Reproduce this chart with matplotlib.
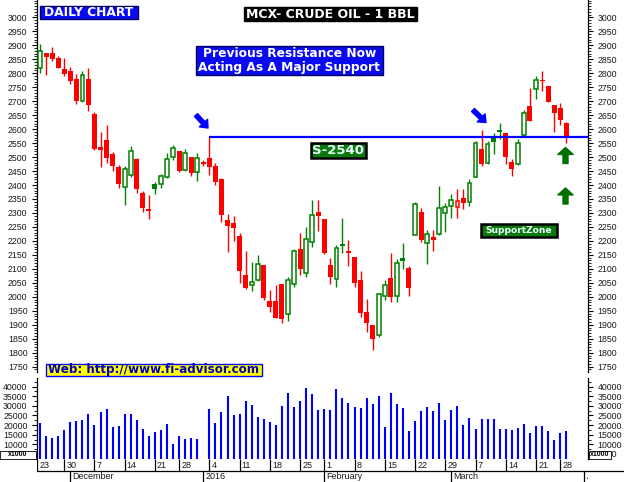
import numpy as np
import pandas as pd
import matplotlib
matplotlib.use("Agg")
import matplotlib.pyplot as plt
from matplotlib.patches import Rectangle, FancyArrowPatch
from matplotlib.lines import Line2D

# ---------------- data ----------------
first_session = "2015-11-24"
calendar_start = "2015-11-23"
calendar_end = "2016-04-01"
holidays = ["2015-12-25", "2016-01-26", "2016-03-25"]

opens = [2817, 2872, 2872, 2854, 2815, 2808, 2779, 2700, 2779, 2654,
         2536, 2561, 2511, 2464, 2392, 2437, 2493, 2371, 2310, 2404,
         2402, 2430, 2499, 2520, 2452, 2499, 2448, 2481, 2495, 2468,
         2421, 2275, 2264, 2218, 2078, 2043, 2059, 2114, 1985, 1985,
         2046, 1937, 2045, 2171, 2084, 2195, 2303, 2277, 2114, 2062,
         2188, 2164, 2142, 2060, 1946, 1899, 1862, 2004, 2067, 2004,
         2139, 2103, 2222, 2303, 2194, 2213, 2223, 2299, 2326, 2322,
         2353, 2340, 2430, 2529, 2480, 2569, 2593, 2586, 2482, 2474,
         2578, 2683, 2742, 2775, 2754, 2686, 2677, 2621]
highs = [2904, 2873, 2894, 2862, 2854, 2822, 2797, 2808, 2820, 2661,
         2591, 2615, 2517, 2472, 2468, 2540, 2498, 2377, 2364, 2412,
         2439, 2515, 2542, 2521, 2528, 2500, 2515, 2491, 2573, 2479,
         2426, 2296, 2289, 2227, 2164, 2125, 2150, 2115, 2024, 2042,
         2047, 2071, 2172, 2228, 2250, 2346, 2346, 2278, 2140, 2185,
         2282, 2203, 2143, 2092, 1992, 1900, 2012, 2060, 2158, 2135,
         2192, 2110, 2339, 2318, 2239, 2239, 2396, 2334, 2368, 2385,
         2386, 2421, 2557, 2597, 2557, 2586, 2622, 2587, 2493, 2566,
         2667, 2748, 2790, 2808, 2755, 2687, 2692, 2627]
lows = [2800, 2794, 2845, 2819, 2791, 2763, 2691, 2698, 2665, 2525,
        2466, 2480, 2451, 2390, 2330, 2427, 2373, 2305, 2280, 2369,
        2390, 2425, 2490, 2447, 2451, 2433, 2416, 2468, 2437, 2401,
        2269, 2162, 2201, 2051, 2029, 2022, 2057, 1988, 1947, 1924,
        1907, 1915, 2034, 2079, 2072, 2179, 2237, 2154, 2046, 2036,
        2158, 2111, 2036, 1929, 1875, 1811, 1857, 1987, 1980, 1981,
        2098, 2004, 2221, 2197, 2119, 2165, 2222, 2233, 2283, 2283,
        2314, 2326, 2429, 2468, 2474, 2512, 2566, 2476, 2433, 2473,
        2577, 2629, 2707, 2737, 2697, 2591, 2616, 2551]
closes = [2879, 2859, 2852, 2820, 2798, 2772, 2701, 2794, 2686, 2530,
          2527, 2497, 2468, 2404, 2457, 2522, 2387, 2319, 2308, 2387,
          2431, 2492, 2531, 2451, 2516, 2444, 2495, 2478, 2466, 2410,
          2294, 2255, 2247, 2094, 2033, 2052, 2117, 1996, 1965, 1925,
          1921, 2059, 2163, 2101, 2206, 2292, 2290, 2158, 2072, 2173,
          2183, 2159, 2050, 1941, 1905, 1848, 2009, 2041, 1998, 2120,
          2129, 2033, 2332, 2203, 2223, 2204, 2317, 2322, 2346, 2343,
          2337, 2406, 2549, 2476, 2548, 2555, 2595, 2501, 2458, 2549,
          2656, 2630, 2774, 2773, 2698, 2659, 2634, 2574]
volumes = [21270, 14330, 13280, 14330, 17450, 21620, 22140, 22830, 25780, 20050,
           26830, 28390, 19010, 19530, 25780, 25780, 22660, 17970, 14330, 16410,
           17450, 20580, 10160, 14330, 12760, 13280, 12760, np.nan, 28390, 21100,
           26830, 35160, 25260, 25780, 32550, 30470, 24220, 23180, 21620, 20050,
           29950, 36720, 29430, 32730, 39320, 36370, 27870, 28390, 27870, 38800,
           34120, 31510, 29430, 28910, 34120, 30990, 35160, 19010, 36720, 30990,
           28910, 16930, 22140, 27350, 29430, 27350, 31510, 22660, 27870, 29950,
           20050, 23700, 17970, 23180, 23180, 23180, 17970, 17970, 17450, 18490,
           20580, 15890, 19530, 19530, 16930, 12240, 15890, 16930]

resistance_level = 2572
resistance_from = "2016-01-04"

month_labels = ["December", "2016", "February", "March", "April"]
price_ticks = list(range(1750, 3001, 50))
volume_ticks = list(range(5000, 40001, 5000))

# ---------------- calendar / positions ----------------
cal = pd.bdate_range(calendar_start, calendar_end)
cal = cal[~cal.isin(pd.to_datetime(holidays))]
origin = cal.searchsorted(pd.Timestamp(first_session))


def pos(d):
    return cal.searchsorted(pd.Timestamp(d)) - origin


o = np.array(opens, float)
h = np.array(highs, float)
l = np.array(lows, float)
c = np.array(closes, float)
v = np.array(volumes, float)
x = np.arange(len(c))

W, H = 624, 482


def fx(px):
    return px / W


def fy(py):
    return 1 - py / H


fig = plt.figure(figsize=(W / 100, H / 100), dpi=100)
fig.patch.set_facecolor("white")

XLIM = (-0.5, 90.6)

# ---------------- price panel ----------------
ax = fig.add_axes([fx(37), fy(372), (588 - 37) / W, 372 / H])
ax.set_xlim(*XLIM)
ax.set_ylim(1731, 3062)
for s in ("top", "bottom"):
    ax.spines[s].set_visible(False)
for s in ("left", "right"):
    ax.spines[s].set_linewidth(0.9)

GREEN = "#008000"
RED = "#FF0000"
prev = np.r_[c[0] - 1, c[:-1]]
colors = np.where(c >= prev, GREEN, RED)
bw_f, bw_h = 0.82, 0.6
for i in range(len(c)):
    col = colors[i]
    ax.vlines(x[i], l[i], h[i], color=col, lw=1.0, zorder=2)
    lo, hi = min(o[i], c[i]), max(o[i], c[i])
    if hi - lo < 6:
        mid = (hi + lo) / 2
        ax.add_patch(Rectangle((x[i] - bw_f / 2, mid - 3.5), bw_f, 7,
                               fc=col, ec="none", zorder=3))
    elif c[i] < o[i]:
        ax.add_patch(Rectangle((x[i] - bw_f / 2, lo), bw_f, hi - lo,
                               fc=col, ec="none", zorder=3))
    else:
        ax.add_patch(Rectangle((x[i] - bw_h / 2, lo), bw_h, hi - lo,
                               fc="white", ec=col, lw=1.1, zorder=3))

ax.hlines(resistance_level, pos(resistance_from), XLIM[1], color="#0000FF",
          lw=1.6, zorder=4)

ax.set_yticks(price_ticks)
ax.set_yticks(np.arange(1740, 3061, 10), minor=True)
ax.tick_params(axis="y", which="both", left=True, right=True,
               labelleft=True, labelright=True, direction="out")
ax.tick_params(axis="y", which="major", length=3.8, width=0.8, pad=3.0,
               labelsize=6.3, labelcolor="#1a1a1a")
ax.tick_params(axis="y", which="minor", length=2.0, width=0.6)
ax.tick_params(axis="x", which="both", bottom=False, labelbottom=False)
for t in ax.get_yticklabels():
    t.set_family("Liberation Sans")

# ---------------- volume panel ----------------
axv = fig.add_axes([fx(37), fy(459), (588 - 37) / W, (459 - 378) / H])
axv.set_xlim(*XLIM)
axv.set_ylim(2344, 44531)
for s in ("top", "bottom"):
    axv.spines[s].set_visible(False)
for s in ("left", "right"):
    axv.spines[s].set_linewidth(0.9)
mask = ~np.isnan(v)
axv.vlines(x[mask], 0, v[mask], color="#0000FF", lw=1.5)
axv.set_yticks(volume_ticks)
axv.set_yticks(np.arange(2500, 44000, 2500), minor=True)
axv.tick_params(axis="y", which="both", left=True, right=True,
                labelleft=True, labelright=True, direction="out")
axv.tick_params(axis="y", which="major", length=3.8, width=0.8, pad=3.0,
                labelsize=6.3, labelcolor="#1a1a1a")
axv.tick_params(axis="y", which="minor", length=2.0, width=0.6)
axv.tick_params(axis="x", which="both", bottom=False, labelbottom=False)
for t in axv.get_yticklabels():
    t.set_family("Liberation Sans")

# ---------------- date row ----------------
axd = fig.add_axes([fx(37), 0, (588 - 37) / W, 23 / H])
axd.set_xlim(*XLIM)
axd.set_ylim(0, 23)
axd.axis("off")
weeks = pd.date_range(calendar_start, "2016-03-28", freq="W-MON")
for d in weeks:
    p = pos(d) if pd.Timestamp(d) >= pd.Timestamp(first_session) else -1
    p = max(p, XLIM[0] + 0.05)
    axd.vlines(p, 11, 23, color="black", lw=0.9)
    axd.text(p + 0.35, 16.6, str(d.day), ha="left", va="center",
             fontsize=6.5, family="Liberation Sans", color="#1a1a1a")
months = pd.date_range("2015-12-01", "2016-04-01", freq="MS")
for d, lab in zip(months, month_labels):
    p = pos(d)
    axd.vlines(p, 0, 11, color="black", lw=0.9)
    t = axd.text(p + 0.35, 5.3, lab, ha="left", va="center", fontsize=6.5,
                 family="Liberation Sans", color="#1a1a1a", clip_on=True)
    t.set_clip_box(axd.bbox)
fig.lines.append(Line2D([fx(37), 1.0], [fy(471), fy(471)],
                        transform=fig.transFigure, color="black", lw=0.9))


# ---------------- annotations ----------------
def label_box(x0, y0, x1, y1, text, fc, ec, tc, size, lw=1.0, ls=1.15,
              family="DejaVu Sans"):
    fig.patches.append(Rectangle((fx(x0), fy(y1)), (x1 - x0) / W, (y1 - y0) / H,
                                 transform=fig.transFigure, fc=fc, ec=ec, lw=lw,
                                 zorder=5))
    fig.text(fx((x0 + x1) / 2), fy((y0 + y1) / 2), text, ha="center",
             va="center", color=tc, fontsize=size, fontweight="bold",
             family=family, zorder=6, linespacing=ls)


def arrow(x0, y0, x1, y1, color, ms, hw, hl, tw):
    fig.patches.append(FancyArrowPatch(
        (fx(x0), fy(y0)), (fx(x1), fy(y1)), transform=fig.transFigure,
        arrowstyle=f"simple,head_width={hw},head_length={hl},tail_width={tw}",
        mutation_scale=ms, color=color, zorder=6, shrinkA=0, shrinkB=0))


label_box(40, 6, 137.5, 19.3, "DAILY CHART", "#0A0AF0", "#000060", "white", 8.8)
label_box(244, 7.3, 417, 21.3, "MCX- CRUDE OIL - 1 BBL", "black", "black",
          "white", 9.0)
label_box(196, 46, 382.5, 75.3,
          "Previous Resistance Now\nActing As A Major Support",
          "#0A0AF0", "#000060", "white", 8.8, ls=1.05)
label_box(311, 143, 365.5, 158.3, "S-2540", "#0B7A0B", "black", "#EAFFFF", 9.5,
          lw=1.8)
label_box(481, 224, 556.5, 236.7, "SupportZone", "#0B7A0B", "black", "#EAFFFF",
          6.6, lw=1.8)
label_box(45.5, 364, 261.5, 375.7, "Web: http://www.fi-advisor.com", "#FFFF00",
          "#0000FF", "#0000C0", 8.6)
label_box(0, 450.7, 36, 459, "x1000", "white", "black", "black", 5.0, lw=0.6,
          family="Liberation Sans")
label_box(589, 450.7, 611, 459, "x1000", "white", "black", "black", 5.0, lw=0.6,
          family="Liberation Sans")

arrow(196, 115, 208, 128, "#0000FF", 8, 1.0, 0.6, 0.38)
arrow(473, 110, 486, 122.5, "#0000FF", 8, 1.0, 0.6, 0.38)
arrow(565.5, 163.5, 565.5, 147.5, "#007000", 10, 1.1, 0.5, 0.36)
arrow(565.5, 204, 565.5, 188, "#007000", 10, 1.1, 0.5, 0.36)

fig.savefig("out.png", dpi=100, facecolor="white")
